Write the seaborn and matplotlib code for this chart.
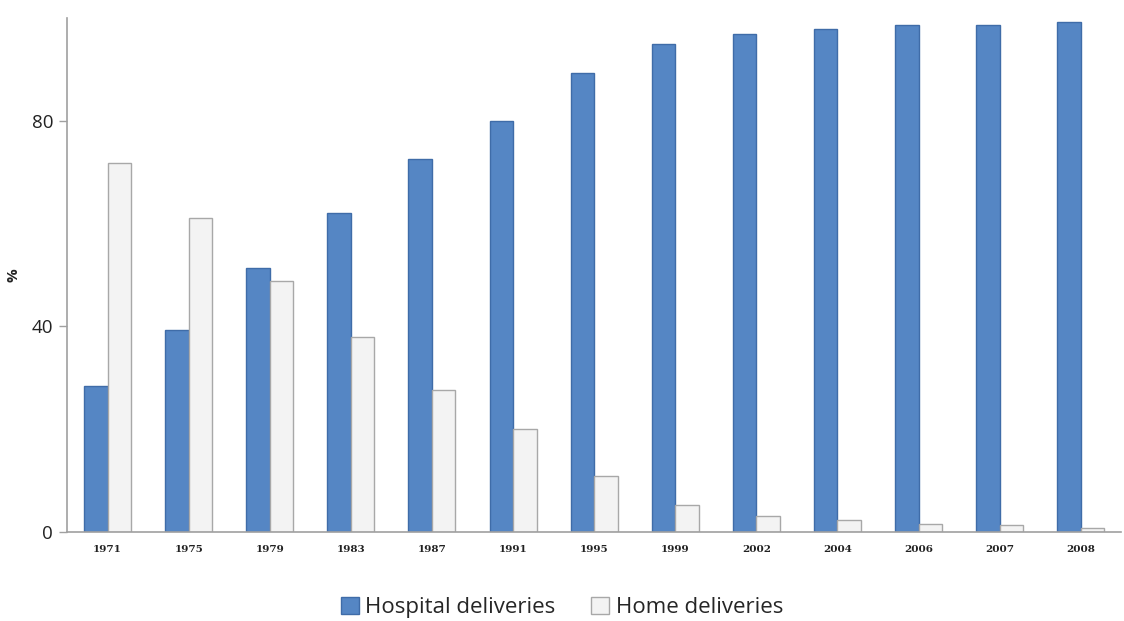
import matplotlib
matplotlib.use("Agg")
import matplotlib.pyplot as plt
import seaborn as sns
import pandas as pd
from matplotlib.patches import Patch

years = ["1971", "1975", "1979", "1983", "1987", "1991", "1995", "1999",
         "2002", "2004", "2006", "2007", "2008"]
hospital = [28.3, 39.2, 51.3, 62.1, 72.6, 80.0, 89.3, 95.0, 96.9, 97.9, 98.6, 98.6, 99.2]
home = [71.8, 61.0, 48.9, 38.0, 27.6, 20.0, 10.9, 5.2, 3.1, 2.3, 1.5, 1.4, 0.8]
series_names = ["Hospital deliveries", "Home deliveries"]
yticks = [0, 40, 80]

df = pd.DataFrame({
    "year": years * 2,
    "value": hospital + home,
    "series": [series_names[0]] * len(years) + [series_names[1]] * len(years),
})

sns.set_style("white")
plt.rcParams["font.family"] = ["Open Sans", "DejaVu Sans"]

fig = plt.figure(figsize=(11.24, 6.21), dpi=100)
ax = fig.add_axes([0.0596, 0.1433, 0.938, 0.828])

palette = {series_names[0]: "#5586C4", series_names[1]: "#F3F3F3"}
sns.barplot(data=df, x="year", y="value", hue="series", order=years,
            hue_order=series_names, palette=palette, width=0.58,
            ax=ax, legend=False, saturation=1)

edge = {0: "#3F6CA8", 1: "#A8A8A8"}
for i, cont in enumerate(ax.containers):
    for p in cont:
        p.set_edgecolor(edge[i])
        p.set_linewidth(1.0)

ax.set_ylim(0, 100)
ax.set_xlim(-0.5, len(years) - 0.5)
ax.set_yticks(yticks)
ax.set_yticklabels([str(t) for t in yticks], fontsize=13.5, color="#222222")
ax.tick_params(axis="y", which="major", length=6, width=1, color="#A0A0A0",
               direction="out", left=True, pad=4)
ax.tick_params(axis="x", length=0, labelsize=8, pad=9, labelcolor="#222222")
for lbl in ax.get_xticklabels():
    lbl.set_fontfamily(["DejaVu Serif"])
    lbl.set_fontweight("bold")
    lbl.set_fontsize(7.5)
ax.set_xlabel("")
ax.set_ylabel("%", fontsize=11, fontweight="bold", color="#222222")
ax.yaxis.set_label_coords(-0.044, 0.5)

for s in ["top", "right"]:
    ax.spines[s].set_visible(False)
for s in ["left", "bottom"]:
    ax.spines[s].set_color("#A0A0A0")
    ax.spines[s].set_linewidth(1.2)

handles = [Patch(facecolor=palette[series_names[0]], edgecolor=edge[0]),
           Patch(facecolor=palette[series_names[1]], edgecolor=edge[1])]
fig.legend(handles, series_names, loc="center", bbox_to_anchor=(0.5, 0.022),
           ncol=2, frameon=False, fontsize=16, handlelength=0.8, handleheight=0.8,
           handletextpad=0.3, columnspacing=1.6)

fig.savefig("out.png", dpi=100)
